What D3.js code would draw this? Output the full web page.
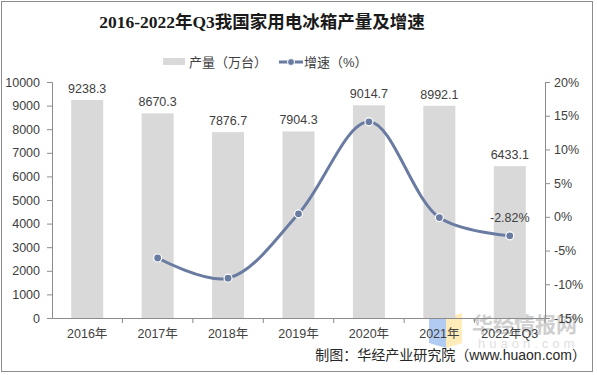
<!DOCTYPE html>
<html>
<head>
<meta charset="utf-8">
<script src="https://cdn.jsdelivr.net/npm/d3@7"></script>
<style>
  body { margin: 0; background: #fff; }
  text { font-family: Arial, "Liberation Sans", "Noto Sans CJK SC", sans-serif; }
</style>
</head>
<body>
<svg id="chart" width="597" height="375"></svg>
<script>
var years = ["2016年", "2017年", "2018年", "2019年", "2020年", "2021年", "2022年Q3"];
var output = [9238.3, 8670.3, 7876.7, 7904.3, 9014.7, 8992.1, 6433.1];
var growth = [null, -6.1, -9.1, 0.45, 14.1, -0.1, -2.82];
var leftTicks = [0, 1000, 2000, 3000, 4000, 5000, 6000, 7000, 8000, 9000, 10000];
var rightTicks = [-15, -10, -5, 0, 5, 10, 15, 20];

var width = 597,
  height = 375,
  margin = { left: 52, right: 52, top: 82, bottom: 57 };

var svg = d3.select("#chart");

var x = d3.scaleBand()
  .domain(years)
  .range([margin.left, width - margin.right]);

var yLeft = d3.scaleLinear()
  .domain([0, 10000])
  .range([height - margin.bottom, margin.top]);

var yRight = d3.scaleLinear()
  .domain([-15, 20])
  .range([height - margin.bottom, margin.top]);

// outer frame
svg.append("rect")
  .attr("x", 1.5).attr("y", 1.5)
  .attr("width", 591).attr("height", 370)
  .attr("fill", "none")
  .attr("stroke", "#8c8c8c");

// title
svg.append("text")
  .attr("x", 262).attr("y", 28)
  .attr("text-anchor", "middle")
  .attr("font-size", 17.5)
  .attr("font-weight", "bold")
  .style("font-family", "'Liberation Serif', 'Noto Sans CJK SC', serif")
  .attr("fill", "#1a1a1a")
  .text("2016-2022年Q3我国家用电冰箱产量及增速");

// legend
var legend = svg.append("g");
legend.append("rect")
  .attr("x", 163).attr("y", 58).attr("width", 22).attr("height", 7)
  .attr("fill", "#d9d9d9");
legend.append("text")
  .attr("x", 189).attr("y", 67).attr("font-size", 13).attr("fill", "#404040")
  .text("产量（万台）");
legend.append("line")
  .attr("x1", 279).attr("x2", 303).attr("y1", 62).attr("y2", 62)
  .attr("stroke", "#6a7ba2").attr("stroke-width", 3);
legend.append("circle")
  .attr("cx", 291).attr("cy", 62).attr("r", 3.5)
  .attr("fill", "#6a7ba2").attr("stroke", "#fff");
legend.append("text")
  .attr("x", 304).attr("y", 67).attr("font-size", 13).attr("fill", "#404040")
  .text("增速（%）");

// axes
var leftAxis = svg.append("g")
  .attr("transform", "translate(" + margin.left + ",0)")
  .call(d3.axisLeft(yLeft).tickValues(leftTicks).tickSize(5).tickPadding(7).tickFormat(d3.format("d")));

var rightAxis = svg.append("g")
  .attr("transform", "translate(" + (width - margin.right) + ",0)")
  .call(d3.axisRight(yRight).tickValues(rightTicks).tickSize(5).tickPadding(4).tickFormat(function (d) { return d + "%"; }));

var xAxis = svg.append("g")
  .attr("transform", "translate(0," + (height - margin.bottom) + ")")
  .call(d3.axisBottom(x).tickSize(0).tickPadding(11));

// category boundary ticks on x axis
xAxis.selectAll(".bound")
  .data(years)
  .enter().append("line")
  .attr("x1", function (d) { return x(d) + x.bandwidth(); })
  .attr("x2", function (d) { return x(d) + x.bandwidth(); })
  .attr("y1", 0).attr("y2", 5)
  .attr("stroke", "#8c8c8c");

[leftAxis, rightAxis, xAxis].forEach(function (g) {
  g.selectAll(".domain").attr("stroke", "#8c8c8c");
  g.selectAll(".tick line").attr("stroke", "#8c8c8c");
  g.selectAll("text").attr("font-size", 12.5).attr("fill", "#404040")
    .style("font-family", "Arial, 'Liberation Sans', 'Noto Sans CJK SC', sans-serif");
});

// watermark (behind the marks)
var wm = svg.insert("g", ":first-child").attr("opacity", 0.6);
wm.append("path").attr("d", "M429,313 L446,318 L446,348 L429,343 Z").attr("fill", "#7fa9ea");
wm.append("path").attr("d", "M446,318 L462,313 L462,343 L446,348 Z").attr("fill", "#ffe08a");
wm.append("text").attr("x", 472).attr("y", 332).attr("font-size", 21).attr("font-weight", "bold")
  .attr("fill", "#b0b0b0").text("华经情报网");
wm.append("text").attr("x", 478).attr("y", 348).attr("font-size", 13)
  .attr("fill", "#cccccc").attr("letter-spacing", 4).text("huaon.com");

// bars
var barWidth = 32;
svg.selectAll(".bar")
  .data(output)
  .enter().append("rect")
  .attr("class", "bar")
  .attr("x", function (d, i) { return x(years[i]) + x.bandwidth() / 2 - barWidth / 2; })
  .attr("y", function (d) { return yLeft(d); })
  .attr("width", barWidth)
  .attr("height", function (d) { return yLeft(0) - yLeft(d); })
  .attr("fill", "#d9d9d9");

svg.selectAll(".barlabel")
  .data(output)
  .enter().append("text")
  .attr("x", function (d, i) { return x(years[i]) + x.bandwidth() / 2; })
  .attr("y", function (d) { return yLeft(d) - 7; })
  .attr("text-anchor", "middle")
  .attr("font-size", 12.5)
  .attr("fill", "#404040")
  .text(function (d) { return d.toFixed(1); });

// growth line
var pts = growth.map(function (d, i) { return { year: years[i], v: d }; })
  .filter(function (d) { return d.v !== null; });

var line = d3.line()
  .x(function (d) { return x(d.year) + x.bandwidth() / 2; })
  .y(function (d) { return yRight(d.v); })
  .curve(d3.curveCatmullRom.alpha(0.5));

svg.append("path")
  .datum(pts)
  .attr("d", line)
  .attr("fill", "none")
  .attr("stroke", "#6a7ba2")
  .attr("stroke-width", 3);

svg.selectAll(".pt")
  .data(pts)
  .enter().append("circle")
  .attr("cx", function (d) { return x(d.year) + x.bandwidth() / 2; })
  .attr("cy", function (d) { return yRight(d.v); })
  .attr("r", 4)
  .attr("fill", "#6a7ba2")
  .attr("stroke", "#fff")
  .attr("stroke-width", 1.2);

var last = pts[pts.length - 1];
svg.append("text")
  .attr("x", x(last.year) + x.bandwidth() / 2)
  .attr("y", yRight(last.v) - 14)
  .attr("text-anchor", "middle")
  .attr("font-size", 12.5)
  .attr("fill", "#404040")
  .text(last.v.toFixed(2) + "%");

// footer
svg.append("text")
  .attr("x", 586).attr("y", 360)
  .attr("text-anchor", "end")
  .attr("font-size", 14)
  .attr("fill", "#262626")
  .text("制图：华经产业研究院（www.huaon.com）");
</script>
</body>
</html>
